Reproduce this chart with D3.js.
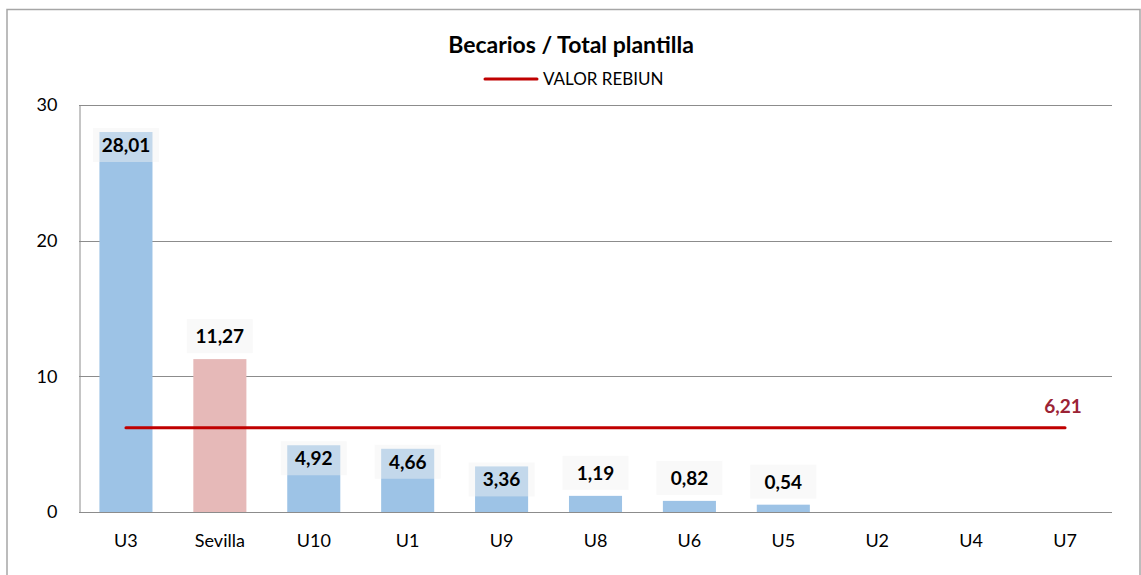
<!DOCTYPE html>
<html>
<head>
	<meta charset="utf-8">
	<title>Becarios / Total plantilla</title>
	<script src="https://cdn.jsdelivr.net/npm/d3@7"></script>
	<style type="text/css">
		body { margin: 0; background: #fff; }
		text { font-family: Lato, "Open Sans", sans-serif; }
	</style>
</head>
<body>
	<script type="text/javascript">
		// Data
		var categories = ["U3", "Sevilla", "U10", "U1", "U9", "U8", "U6", "U5", "U2", "U4", "U7"];
		var values = [28.01, 11.27, 4.92, 4.66, 3.36, 1.19, 0.82, 0.54, 0, 0, 0];
		var highlight = "Sevilla";
		var rebiun = 6.21;
		var yTicks = [0, 10, 20, 30];

		var width = 1141, height = 575;
		var margin = {left: 79, right: 29, top: 105, bottom: 63};

		var fmt = function(v) { return v.toFixed(2).replace(".", ","); };

		var svg = d3.select("body").append("svg")
			.attr("width", width)
			.attr("height", height);

		// outer chart border
		svg.append("rect")
			.attr("x", 7).attr("y", 9.5)
			.attr("width", 1133).attr("height", 600)
			.attr("fill", "none")
			.attr("stroke", "#a6a6a6")
			.attr("stroke-width", 1.5);

		var xScale = d3.scaleBand()
			.domain(categories)
			.range([margin.left, width - margin.right])
			.paddingInner(0.435)
			.paddingOuter(0.2175);
		var yScale = d3.scaleLinear()
			.domain([0, 30])
			.range([height - margin.bottom, margin.top]);

		// gridlines
		svg.append("g")
			.selectAll("line")
			.data(yTicks)
			.enter()
			.append("line")
			  .attr("x1", margin.left)
			  .attr("x2", width - margin.right)
			  .attr("y1", function(d) { return Math.round(yScale(d)) + 0.5; })
			  .attr("y2", function(d) { return Math.round(yScale(d)) + 0.5; })
			  .attr("stroke", "#8c8c8c")
			  .attr("stroke-width", 1);

		// y axis
		var yAxis = svg.append("g")
			.attr("transform", "translate(" + (margin.left + 0.5) + ",0)")
			.call(d3.axisLeft(yScale).tickValues(yTicks).tickSize(0).tickPadding(22));
		yAxis.select(".domain").attr("stroke", "#8c8c8c");
		yAxis.selectAll("text")
			.attr("font-size", "18px")
			.attr("fill", "#000");

		// x axis
		var xAxis = svg.append("g")
			.attr("transform", "translate(0," + (height - margin.bottom) + ")")
			.call(d3.axisBottom(xScale).tickSize(0).tickPadding(22));
		xAxis.select(".domain").remove();
		xAxis.selectAll("text")
			.attr("font-size", "18px")
			.attr("fill", "#000");

		// bars
		svg.append("g")
			.selectAll("rect")
			.data(categories)
			.enter()
			.append("rect")
			  .attr("x", function(d) { return xScale(d); })
			  .attr("y", function(d, i) { return yScale(values[i]); })
			  .attr("width", xScale.bandwidth())
			  .attr("height", function(d, i) { return yScale(0) - yScale(values[i]); })
			  .attr("fill", function(d) { return d === highlight ? "#e6b9b8" : "#9dc3e6"; });

		// reference line
		svg.append("line")
			.attr("x1", xScale(categories[0]) + xScale.bandwidth() / 2)
			.attr("x2", xScale(categories[categories.length - 1]) + xScale.bandwidth() / 2)
			.attr("y1", yScale(rebiun))
			.attr("y2", yScale(rebiun))
			.attr("stroke", "#c00000")
			.attr("stroke-width", 3)
			.attr("stroke-linecap", "round");

		svg.append("text")
			.attr("x", xScale(categories[categories.length - 1]) + xScale.bandwidth() / 2 - 2)
			.attr("y", yScale(rebiun) - 15)
			.attr("text-anchor", "middle")
			.attr("font-size", "19px")
			.attr("font-weight", "bold")
			.attr("fill", "#9b2335")
			.text(fmt(rebiun));

		// data labels with light boxes
		var labelled = categories.filter(function(d, i) { return values[i] > 0; });
		var boxW = 66, boxH = 34;
		var labels = svg.append("g")
			.selectAll("g")
			.data(labelled)
			.enter()
			.append("g")
			  .attr("transform", function(d) {
			    var i = categories.indexOf(d);
			    var top = yScale(values[i]);
			    var cx = xScale(d) + xScale.bandwidth() / 2;
			    var boxTop = (values[i] >= 3 && d !== highlight) ? top - 4 : top - boxH - 6;
			    return "translate(" + cx + "," + boxTop + ")";
			  });
		labels.append("rect")
			.attr("x", -boxW / 2)
			.attr("width", boxW)
			.attr("height", boxH)
			.attr("fill", "#f2f2f2")
			.attr("fill-opacity", 0.45);
		labels.append("text")
			.attr("y", boxH / 2 + 7)
			.attr("text-anchor", "middle")
			.attr("font-size", "19px")
			.attr("font-weight", "bold")
			.attr("fill", "#000")
			.text(function(d) { return fmt(values[categories.indexOf(d)]); });

		// title and legend
		svg.append("text")
			.attr("x", 571)
			.attr("y", 53)
			.attr("text-anchor", "middle")
			.attr("font-size", "23px")
			.attr("font-weight", "bold")
			.attr("fill", "#000")
			.text("Becarios / Total plantilla");
		svg.append("line")
			.attr("x1", 485).attr("x2", 537)
			.attr("y1", 79).attr("y2", 79)
			.attr("stroke", "#c00000")
			.attr("stroke-width", 3)
			.attr("stroke-linecap", "round");
		svg.append("text")
			.attr("x", 543)
			.attr("y", 85)
			.attr("font-size", "17px")
			.attr("fill", "#000")
			.text("VALOR REBIUN");
	</script>
</body>
</html>
